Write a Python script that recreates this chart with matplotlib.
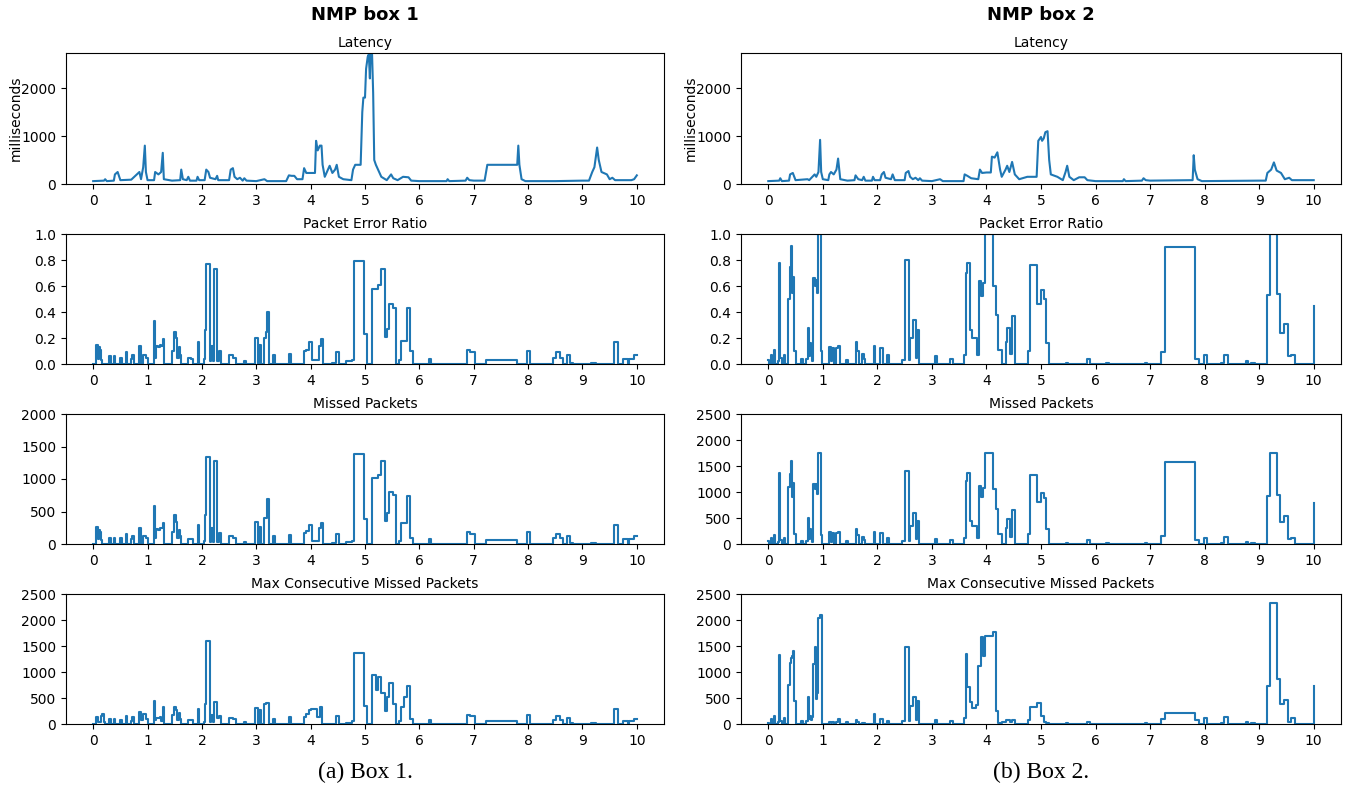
import matplotlib
matplotlib.use("Agg")
from matplotlib import pyplot as plt

# ---- box 1 data (x in same units as plotted axis) ----
lat1 = [(0, 60), (0.2, 70), (0.22, 100), (0.25, 60), (0.38, 70), (0.4, 200), (0.45, 250), (0.5, 80),
        (0.7, 90), (0.85, 250), (0.88, 100), (0.92, 350), (0.95, 800), (0.97, 250), (1.0, 80),
        (1.12, 80), (1.14, 250), (1.2, 200), (1.25, 250), (1.28, 650), (1.3, 100), (1.45, 70),
        (1.6, 80), (1.62, 300), (1.65, 100), (1.72, 80), (1.75, 150), (1.78, 70), (1.9, 70),
        (1.92, 150), (1.95, 80), (2.05, 80), (2.08, 300), (2.12, 250), (2.15, 130), (2.25, 100),
        (2.28, 170), (2.3, 80), (2.5, 80), (2.53, 300), (2.57, 330), (2.6, 150), (2.65, 100),
        (2.7, 130), (2.75, 70), (2.78, 120), (2.82, 70), (3.0, 60), (3.15, 100), (3.2, 60),
        (3.55, 60), (3.6, 180), (3.65, 170), (3.7, 170), (3.75, 100), (3.85, 100), (3.88, 330),
        (3.92, 230), (4.0, 230), (4.08, 230), (4.1, 900), (4.13, 700), (4.17, 800), (4.2, 800),
        (4.22, 400), (4.26, 150), (4.3, 250), (4.35, 380), (4.4, 230), (4.45, 300), (4.48, 400),
        (4.52, 150), (4.6, 100), (4.75, 80), (4.78, 300), (4.82, 400), (4.92, 400), (4.95, 1500),
        (4.97, 1800), (5.0, 1800), (5.02, 2400), (5.05, 2650), (5.07, 2700), (5.09, 2200),
        (5.1, 2700), (5.13, 2700), (5.15, 1900), (5.17, 500), (5.2, 400), (5.3, 150), (5.4, 80),
        (5.48, 200), (5.52, 120), (5.6, 80), (5.7, 150), (5.8, 140), (5.85, 70), (6.0, 60),
        (6.5, 60), (6.52, 100), (6.55, 60), (6.85, 70), (6.88, 130), (6.92, 80), (7.0, 70),
        (7.2, 70), (7.25, 400), (7.3, 400), (7.8, 400), (7.82, 800), (7.84, 400), (7.88, 100),
        (7.95, 60), (8.5, 60), (9.0, 70), (9.12, 70), (9.18, 250), (9.22, 350), (9.27, 760),
        (9.3, 500), (9.35, 250), (9.45, 200), (9.5, 100), (9.55, 130), (9.6, 80), (9.9, 80),
        (9.95, 100), (10.0, 180)]

per1 = [(0, 0), (0.06, 0.15), (0.08, 0.04), (0.1, 0.13), (0.12, 0.11), (0.14, 0.03), (0.17, 0),
        (0.3, 0.06), (0.33, 0), (0.38, 0.06), (0.41, 0), (0.5, 0.05), (0.53, 0), (0.6, 0.09),
        (0.63, 0), (0.7, 0.04), (0.72, 0.07), (0.75, 0), (0.85, 0.14), (0.88, 0), (0.92, 0.07),
        (0.98, 0.05), (1.0, 0), (1.12, 0.33), (1.14, 0.05), (1.16, 0.14), (1.2, 0.13),
        (1.22, 0.15), (1.25, 0.14), (1.28, 0.19), (1.3, 0), (1.45, 0.1), (1.48, 0.25),
        (1.52, 0.2), (1.55, 0.05), (1.58, 0.13), (1.6, 0.07), (1.62, 0), (1.75, 0.05),
        (1.8, 0.04), (1.83, 0), (1.92, 0.17), (1.95, 0), (2.03, 0.04), (2.05, 0.26),
        (2.08, 0.77), (2.15, 0.02), (2.17, 0.14), (2.2, 0.02), (2.22, 0.73), (2.28, 0.02),
        (2.31, 0.1), (2.35, 0), (2.5, 0.07), (2.57, 0.05), (2.62, 0), (2.78, 0.02), (2.82, 0),
        (2.97, 0.2), (3.03, 0), (3.05, 0.15), (3.09, 0), (3.15, 0.2), (3.18, 0.25), (3.2, 0.4),
        (3.23, 0), (3.3, 0.07), (3.34, 0), (3.6, 0.08), (3.64, 0), (3.87, 0.1), (3.92, 0.11),
        (3.97, 0.17), (4.02, 0.03), (4.15, 0.14), (4.19, 0.19), (4.23, 0), (4.4, 0.01),
        (4.47, 0.09), (4.52, 0), (4.65, 0.02), (4.73, 0.02), (4.77, 0.03), (4.8, 0.79),
        (4.98, 0.23), (5.03, 0), (5.13, 0.58), (5.23, 0.61), (5.3, 0.73), (5.36, 0.21),
        (5.4, 0.27), (5.45, 0.46), (5.52, 0.43), (5.57, 0), (5.62, 0.03), (5.67, 0.18),
        (5.77, 0.43), (5.83, 0.1), (5.88, 0), (6.18, 0.04), (6.22, 0), (6.88, 0.11),
        (6.93, 0.09), (7.02, 0), (7.22, 0.03), (7.8, 0), (7.98, 0.1), (8.03, 0), (8.45, 0.05),
        (8.52, 0.09), (8.58, 0.05), (8.65, 0), (8.72, 0.07), (8.78, 0.01), (8.82, 0),
        (9.15, 0.01), (9.25, 0), (9.58, 0.17), (9.65, 0), (9.75, 0.04), (9.83, 0), (9.85, 0.04),
        (9.95, 0.07), (10.0, 0.07)]

miss1 = [(0, 0), (0.06, 260), (0.08, 70), (0.1, 220), (0.12, 190), (0.14, 60), (0.17, 0),
         (0.3, 100), (0.33, 0), (0.38, 100), (0.41, 0), (0.5, 90), (0.53, 0), (0.6, 150),
         (0.63, 0), (0.7, 80), (0.72, 130), (0.75, 0), (0.85, 250), (0.88, 0), (0.92, 130),
         (0.98, 90), (1.0, 0), (1.12, 580), (1.14, 90), (1.16, 230), (1.2, 220), (1.22, 250),
         (1.25, 250), (1.28, 330), (1.3, 0), (1.45, 180), (1.48, 440), (1.52, 340), (1.55, 90),
         (1.58, 220), (1.6, 120), (1.62, 0), (1.75, 80), (1.8, 70), (1.83, 0), (1.92, 290),
         (1.95, 0), (2.03, 40), (2.05, 450), (2.08, 1340), (2.15, 30), (2.17, 240), (2.2, 30),
         (2.22, 1270), (2.28, 30), (2.31, 170), (2.35, 0), (2.5, 120), (2.57, 90), (2.62, 0),
         (2.78, 30), (2.82, 0), (2.97, 340), (3.03, 0), (3.05, 260), (3.09, 0), (3.15, 400),
         (3.2, 700), (3.23, 0), (3.3, 120), (3.34, 0), (3.6, 140), (3.64, 0), (3.87, 170),
         (3.92, 200), (3.97, 300), (4.02, 50), (4.15, 240), (4.19, 330), (4.23, 0), (4.4, 20),
         (4.47, 150), (4.52, 0), (4.65, 30), (4.73, 30), (4.77, 50), (4.8, 1380), (4.98, 390),
         (5.03, 0), (5.13, 1010), (5.23, 1060), (5.3, 1270), (5.36, 360), (5.4, 470),
         (5.45, 800), (5.52, 750), (5.57, 0), (5.62, 50), (5.67, 320), (5.77, 740), (5.83, 100),
         (5.88, 0), (6.18, 70), (6.22, 0), (6.88, 190), (6.93, 150), (7.02, 0), (7.22, 60),
         (7.8, 0), (7.98, 180), (8.03, 0), (8.45, 90), (8.52, 160), (8.58, 90), (8.65, 0),
         (8.72, 120), (8.78, 20), (8.82, 0), (9.15, 10), (9.25, 0), (9.58, 290), (9.65, 0),
         (9.75, 70), (9.83, 0), (9.85, 70), (9.95, 130), (10.0, 130)]

maxc1 = [(0, 0), (0.06, 130), (0.08, 30), (0.14, 150), (0.17, 190), (0.19, 30), (0.22, 0),
         (0.3, 100), (0.33, 0), (0.38, 100), (0.41, 0), (0.5, 80), (0.53, 0), (0.6, 150),
         (0.63, 0), (0.7, 60), (0.72, 130), (0.75, 0), (0.85, 230), (0.88, 80), (0.92, 190),
         (0.98, 90), (1.0, 0), (1.12, 450), (1.14, 70), (1.16, 110), (1.22, 130), (1.25, 50),
         (1.28, 330), (1.3, 0), (1.45, 180), (1.48, 320), (1.52, 270), (1.55, 80), (1.58, 210),
         (1.6, 100), (1.62, 0), (1.75, 80), (1.8, 70), (1.83, 0), (1.92, 290), (1.95, 0),
         (2.03, 40), (2.05, 380), (2.08, 1600), (2.15, 30), (2.17, 180), (2.2, 30), (2.22, 420),
         (2.28, 120), (2.31, 160), (2.35, 0), (2.5, 110), (2.57, 90), (2.62, 0), (2.78, 30),
         (2.82, 0), (2.97, 310), (3.03, 0), (3.05, 260), (3.09, 0), (3.15, 380), (3.18, 410),
         (3.23, 0), (3.3, 90), (3.34, 0), (3.6, 140), (3.64, 0), (3.87, 130), (3.92, 190),
         (3.97, 260), (4.0, 290), (4.12, 130), (4.17, 330), (4.2, 0), (4.47, 150), (4.52, 0),
         (4.65, 20), (4.73, 20), (4.77, 60), (4.8, 1370), (4.98, 340), (5.03, 0), (5.13, 940),
         (5.2, 650), (5.23, 900), (5.3, 600), (5.36, 250), (5.4, 520), (5.45, 780), (5.52, 380),
         (5.57, 0), (5.62, 60), (5.67, 320), (5.72, 520), (5.77, 740), (5.83, 100), (5.88, 0),
         (6.18, 70), (6.22, 0), (6.88, 180), (6.93, 150), (7.02, 0), (7.22, 50), (7.8, 0),
         (7.98, 180), (8.03, 0), (8.45, 80), (8.52, 160), (8.58, 70), (8.65, 0), (8.72, 110),
         (8.78, 20), (8.82, 0), (9.15, 10), (9.25, 0), (9.58, 290), (9.65, 0), (9.75, 50),
         (9.83, 0), (9.85, 60), (9.95, 100), (10.0, 100)]

# ---- box 2 data ----
lat2 = [(0, 60), (0.2, 70), (0.22, 120), (0.25, 60), (0.38, 70), (0.4, 200), (0.45, 230), (0.5, 80),
        (0.72, 100), (0.75, 80), (0.85, 200), (0.88, 150), (0.92, 250), (0.95, 920), (0.97, 250),
        (1.0, 100), (1.1, 80), (1.12, 200), (1.15, 250), (1.2, 200), (1.25, 300), (1.28, 530),
        (1.32, 100), (1.45, 70), (1.58, 80), (1.6, 180), (1.65, 100), (1.72, 80), (1.75, 150),
        (1.78, 70), (1.9, 70), (1.92, 150), (1.95, 80), (2.05, 80), (2.08, 200), (2.12, 250),
        (2.15, 130), (2.25, 100), (2.28, 200), (2.32, 80), (2.5, 80), (2.52, 230), (2.57, 270),
        (2.6, 150), (2.65, 100), (2.7, 130), (2.75, 80), (2.78, 120), (2.82, 70), (3.0, 60),
        (3.15, 100), (3.2, 60), (3.58, 60), (3.6, 200), (3.65, 170), (3.72, 120), (3.85, 100),
        (3.88, 300), (3.92, 230), (4.0, 240), (4.08, 240), (4.1, 570), (4.15, 550), (4.2, 660),
        (4.25, 300), (4.28, 150), (4.35, 300), (4.38, 380), (4.42, 250), (4.47, 460),
        (4.52, 200), (4.6, 100), (4.75, 150), (4.92, 150), (4.95, 900), (5.0, 980), (5.02, 900),
        (5.05, 950), (5.08, 1080), (5.12, 1100), (5.15, 500), (5.18, 200), (5.3, 150), (5.4, 80),
        (5.45, 250), (5.48, 380), (5.52, 150), (5.6, 80), (5.7, 140), (5.8, 140), (5.85, 80),
        (6.0, 60), (6.5, 60), (6.52, 100), (6.55, 60), (6.85, 70), (6.88, 120), (6.92, 80),
        (7.0, 70), (7.78, 80), (7.8, 600), (7.82, 300), (7.87, 100), (7.95, 60), (9.0, 70),
        (9.12, 70), (9.15, 230), (9.22, 300), (9.27, 450), (9.32, 280), (9.4, 230), (9.47, 100),
        (9.55, 130), (9.6, 80), (10.0, 80)]

per2 = [(0, 0.03), (0.02, 0), (0.05, 0.07), (0.07, 0), (0.1, 0.11), (0.12, 0), (0.17, 0.02),
        (0.2, 0.78), (0.21, 0.3), (0.22, 0.05), (0.25, 0), (0.28, 0.07), (0.3, 0), (0.37, 0.5),
        (0.39, 0.75), (0.41, 0.91), (0.44, 0.55), (0.46, 0.67), (0.48, 0.1), (0.5, 0),
        (0.6, 0.04), (0.63, 0), (0.7, 0.04), (0.72, 0.28), (0.74, 0.06), (0.76, 0.16),
        (0.78, 0.07), (0.8, 0.02), (0.82, 0.66), (0.85, 0.6), (0.87, 0.65), (0.9, 0.55),
        (0.92, 1.0), (0.96, 0.1), (0.98, 0), (1.12, 0.13), (1.15, 0.02), (1.17, 0.12), (1.2, 0),
        (1.25, 0.12), (1.28, 0.14), (1.32, 0), (1.43, 0.03), (1.46, 0), (1.6, 0.17), (1.63, 0.1),
        (1.66, 0), (1.72, 0.08), (1.75, 0.04), (1.78, 0), (1.93, 0.14), (1.95, 0), (2.05, 0.12),
        (2.1, 0), (2.18, 0.07), (2.22, 0), (2.45, 0.03), (2.5, 0.8), (2.58, 0.03), (2.6, 0.2),
        (2.65, 0.34), (2.7, 0.05), (2.73, 0.26), (2.77, 0), (3.05, 0.06), (3.1, 0), (3.33, 0.04),
        (3.38, 0), (3.58, 0.07), (3.62, 0.7), (3.65, 0.78), (3.7, 0.26), (3.73, 0.2), (3.8, 0.2),
        (3.83, 0.07), (3.87, 0.64), (3.9, 0.52), (3.93, 0.62), (3.98, 1.0), (4.12, 0.6),
        (4.17, 0.38), (4.22, 0.11), (4.28, 0), (4.35, 0.17), (4.38, 0.28), (4.44, 0.08),
        (4.47, 0.37), (4.52, 0), (4.77, 0.1), (4.8, 0.76), (4.93, 0.46), (5.0, 0.57), (5.05, 0.5),
        (5.1, 0.16), (5.15, 0), (5.45, 0.01), (5.5, 0), (5.85, 0.04), (5.9, 0), (6.2, 0.01),
        (6.25, 0), (6.9, 0.01), (6.95, 0), (7.2, 0.09), (7.27, 0.9), (7.83, 0.04), (7.9, 0),
        (7.98, 0.07), (8.05, 0), (8.3, 0.01), (8.35, 0.07), (8.42, 0), (8.75, 0.02), (8.8, 0),
        (8.85, 0.01), (8.92, 0), (9.15, 0.53), (9.2, 1.0), (9.32, 0.54), (9.38, 0.24),
        (9.45, 0.31), (9.53, 0.06), (9.58, 0.07), (9.65, 0), (10.0, 0.45)]

miss2 = [(0, 50), (0.02, 0), (0.05, 120), (0.07, 0), (0.1, 180), (0.12, 0), (0.17, 30),
         (0.2, 1370), (0.21, 500), (0.22, 80), (0.25, 0), (0.28, 120), (0.3, 0), (0.37, 1100),
         (0.39, 1350), (0.41, 1600), (0.44, 900), (0.46, 1170), (0.48, 200), (0.5, 0), (0.6, 60),
         (0.63, 0), (0.7, 60), (0.72, 500), (0.74, 100), (0.76, 280), (0.78, 120), (0.8, 40),
         (0.82, 1150), (0.85, 1050), (0.87, 1150), (0.9, 960), (0.92, 1750), (0.96, 170),
         (0.98, 0), (1.12, 230), (1.15, 30), (1.17, 210), (1.2, 0), (1.25, 210), (1.28, 240),
         (1.32, 0), (1.43, 60), (1.46, 0), (1.6, 290), (1.63, 170), (1.66, 0), (1.72, 140),
         (1.75, 70), (1.78, 0), (1.93, 240), (1.95, 0), (2.05, 210), (2.1, 0), (2.18, 120),
         (2.22, 0), (2.45, 50), (2.5, 1410), (2.58, 50), (2.6, 350), (2.65, 600), (2.7, 90),
         (2.73, 450), (2.77, 0), (3.05, 100), (3.1, 0), (3.33, 70), (3.38, 0), (3.58, 120),
         (3.62, 1220), (3.65, 1360), (3.7, 450), (3.73, 340), (3.8, 340), (3.83, 110),
         (3.87, 1120), (3.9, 910), (3.93, 1080), (3.98, 1750), (4.12, 1050), (4.17, 670),
         (4.22, 200), (4.28, 0), (4.35, 300), (4.38, 490), (4.44, 140), (4.47, 660), (4.52, 0),
         (4.77, 190), (4.8, 1330), (4.93, 800), (5.0, 990), (5.05, 880), (5.1, 280), (5.15, 0),
         (5.45, 20), (5.5, 0), (5.85, 70), (5.9, 0), (6.2, 10), (6.25, 0), (6.9, 20), (6.95, 0),
         (7.2, 150), (7.27, 1570), (7.83, 70), (7.9, 0), (7.98, 120), (8.05, 0), (8.3, 10),
         (8.35, 130), (8.42, 0), (8.75, 30), (8.8, 0), (8.85, 20), (8.92, 0), (9.15, 930),
         (9.2, 1750), (9.32, 940), (9.38, 420), (9.45, 540), (9.53, 100), (9.58, 120), (9.65, 0),
         (10.0, 780)]

maxc2 = [(0, 20), (0.02, 0), (0.05, 90), (0.07, 0), (0.1, 160), (0.12, 0), (0.17, 30),
         (0.2, 1330), (0.21, 500), (0.22, 50), (0.25, 0), (0.28, 110), (0.3, 0), (0.37, 750),
         (0.39, 1170), (0.41, 1270), (0.44, 1300), (0.46, 1400), (0.48, 450), (0.5, 0), (0.6, 60),
         (0.63, 0), (0.7, 60), (0.72, 520), (0.74, 100), (0.76, 160), (0.78, 80), (0.8, 140),
         (0.82, 1150), (0.85, 1490), (0.87, 480), (0.89, 600), (0.91, 2040), (0.95, 2090),
         (0.98, 0), (1.12, 40), (1.15, 20), (1.17, 30), (1.2, 0), (1.25, 40), (1.28, 90),
         (1.32, 0), (1.43, 40), (1.46, 0), (1.6, 70), (1.63, 40), (1.66, 0), (1.72, 10),
         (1.78, 0), (1.93, 190), (1.95, 0), (2.05, 90), (2.1, 0), (2.18, 50), (2.22, 0),
         (2.45, 60), (2.5, 1480), (2.58, 50), (2.6, 350), (2.65, 510), (2.7, 80), (2.73, 450),
         (2.77, 0), (3.05, 80), (3.1, 0), (3.33, 50), (3.38, 0), (3.58, 120), (3.62, 1340),
         (3.65, 720), (3.7, 420), (3.73, 310), (3.8, 360), (3.85, 1110), (3.9, 1680),
         (3.93, 1300), (3.98, 1700), (4.12, 1770), (4.17, 250), (4.22, 20), (4.28, 40),
         (4.35, 70), (4.44, 40), (4.47, 70), (4.52, 0), (4.77, 80), (4.8, 320), (4.93, 400),
         (5.0, 160), (5.05, 40), (5.1, 20), (5.15, 0), (5.45, 10), (5.5, 0), (5.85, 40), (5.9, 0),
         (6.2, 5), (6.25, 0), (6.9, 10), (6.95, 0), (7.2, 100), (7.27, 210), (7.83, 70), (7.9, 0),
         (7.98, 120), (8.05, 0), (8.3, 10), (8.35, 130), (8.42, 0), (8.75, 30), (8.8, 0),
         (8.85, 20), (8.92, 0), (9.15, 730), (9.2, 2320), (9.32, 860), (9.38, 380), (9.45, 470),
         (9.53, 40), (9.58, 110), (9.65, 0), (10.0, 730)]

titles = ['Latency', 'Packet Error Ratio', 'Missed Packets', 'Max Consecutive Missed Packets']
ylims1 = [2730, 1.0, 2000, 2500]
ylims2 = [2730, 1.0, 2500, 2500]
yticks1 = [[0, 1000, 2000], [0, 0.2, 0.4, 0.6, 0.8, 1.0], [0, 500, 1000, 1500, 2000],
           [0, 500, 1000, 1500, 2000, 2500]]
yticks2 = [[0, 1000, 2000], [0, 0.2, 0.4, 0.6, 0.8, 1.0], [0, 500, 1000, 1500, 2000, 2500],
           [0, 500, 1000, 1500, 2000, 2500]]

W, H = 1348, 785
fig = plt.figure(figsize=(W / 100, H / 100), dpi=100)

col_x = [(66, 664), (741, 1341)]
row_y = [(53, 184), (234, 364), (414, 544), (594, 724)]
blue = '#1f77b4'


def px_axes(x0, x1, y0, y1):
    return fig.add_axes([x0 / W, 1 - y1 / H, (x1 - x0) / W, (y1 - y0) / H])


for c, (series, ylims, yticks) in enumerate([([lat1, per1, miss1, maxc1], ylims1, yticks1),
                                             ([lat2, per2, miss2, maxc2], ylims2, yticks2)]):
    x0, x1 = col_x[c]
    for r in range(4):
        y0, y1 = row_y[r]
        ax = px_axes(x0, x1, y0, y1)
        xs = [p[0] for p in series[r]]
        ys = [p[1] for p in series[r]]
        if r == 0:
            ax.plot(xs, ys, color=blue, lw=1.5)
            ax.set_ylabel('milliseconds')
            # label's right edge sits ~43 px left of the spine
            ax.yaxis.set_label_coords(-43 / (x1 - x0), 0.5)
        else:
            ax.step(xs, ys, where='post', color=blue, lw=1.5)
        ax.set_xlim(-0.5, 10.5)
        ax.set_ylim(0, ylims[r])
        ax.set_yticks(yticks[r])
        if r == 1:
            ax.set_yticklabels(['%.1f' % v for v in yticks[r]])
        ax.set_xticks(range(11))
        ax.set_title(titles[r], fontsize=10, pad=4)

fig.text(365 / W, 1 - 15 / H, 'NMP box 1', ha='center', va='center', fontsize=13, fontweight='bold')
fig.text(1041 / W, 1 - 15 / H, 'NMP box 2', ha='center', va='center', fontsize=13, fontweight='bold')
fig.text(365 / W, 1 - 772 / H, '(a) Box 1.', ha='center', va='center', fontsize=17,
         family='Liberation Serif')
fig.text(1041 / W, 1 - 772 / H, '(b) Box 2.', ha='center', va='center', fontsize=17,
         family='Liberation Serif')

fig.savefig('out.png', dpi=100)
